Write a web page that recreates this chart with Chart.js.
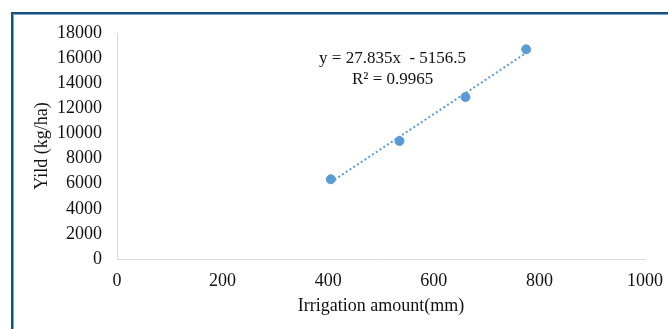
<!DOCTYPE html>
<html>
<head>
<meta charset="utf-8">
<script src="https://cdn.jsdelivr.net/npm/chart.js@4/dist/chart.umd.min.js"></script>
<style>
body { margin: 0; background: #fff; overflow: hidden; }
#wrap { position: relative; width: 668px; height: 329px; }
#frame1 { position: absolute; left: 11px; top: 12px; width: 1000px; height: 1000px;
    border-top: 2px solid #1f4e79; border-left: 2px solid #1f4e79; }
#frame2 { position: absolute; left: 13px; top: 14px; width: 1000px; height: 1000px;
    border-top: 1px solid #6fa8dc; border-left: 1px solid #6fa8dc; }
canvas { position: absolute; left: 0; top: 0; }
</style>
</head>
<body>
<div id="wrap">
    <div id="frame1"></div>
    <div id="frame2"></div>
    <canvas id="scatterChart" width="668" height="329"></canvas>
</div>
<script>
// 灌水量 / 产量
var irrigation = [405, 535, 660, 775];
var yieldKg = [6350, 9400, 12900, 16700];
var xTicks = [0, 200, 400, 600, 800, 1000];
var yTicks = [0, 2000, 4000, 6000, 8000, 10000, 12000, 14000, 16000, 18000];

// trendline from the picture
var slope = 27.835;
var intercept = -5156.5;
var eqText = ['y = 27.835x  - 5156.5', 'R\u00b2 = 0.9965'];

var blue = '#5b9bd5';
var serif = 'Liberation Serif';
var txt = '#111';

var trend = [irrigation[0], irrigation[irrigation.length - 1]].map(function(x) {
    return { x: x, y: slope * x + intercept };
});
var points = irrigation.map(function(x, i) {
    return { x: x, y: yieldKg[i] };
});

// 公式文字
var eqPlugin = {
    id: 'eqLabel',
    afterDatasetsDraw: function(chart) {
        var ctx = chart.ctx;
        var px = chart.scales.x.getPixelForValue(522);
        var py = chart.scales.y.getPixelForValue(16000);
        ctx.save();
        ctx.font = '17px "' + serif + '"';
        ctx.fillStyle = txt;
        ctx.textAlign = 'center';
        ctx.textBaseline = 'middle';
        ctx.fillText(eqText[0], px, py);
        ctx.fillText(eqText[1], px, py + 21);
        ctx.restore();
    }
};

function plain(v) { return String(v); }

var ctx = document.getElementById('scatterChart');
var myChart = new Chart(ctx, {
    type: 'scatter',
    data: {
        datasets: [{
            data: points,
            backgroundColor: blue,
            borderColor: blue,
            pointRadius: 4.5,
            pointHoverRadius: 4.5
        }, {
            type: 'line',
            data: trend,
            borderColor: blue,
            borderWidth: 2,
            borderDash: [2, 2.5],
            pointRadius: 0,
            fill: false
        }]
    },
    options: {
        responsive: false,
        animation: false,
        events: [],
        layout: { padding: { top: 33, right: 23, left: 0, bottom: 0 } },
        plugins: { legend: { display: false }, tooltip: { enabled: false } },
        scales: {
            x: {
                type: 'linear',
                min: 0,
                max: 1000,
                afterBuildTicks: function(axis) {
                    axis.ticks = xTicks.map(function(v) { return { value: v }; });
                },
                afterFit: function(axis) {
                    axis.height = 70;
                    axis.paddingLeft = 0;
                    axis.paddingRight = 0;
                },
                grid: { display: false, drawTicks: false },
                border: { color: '#d9d9d9', width: 1 },
                ticks: { color: txt, padding: 11, maxRotation: 0, callback: plain,
                    font: { family: serif, size: 18 } },
                title: { display: true, text: 'Irrigation amount(mm)', color: txt,
                    font: { family: serif, size: 18 }, padding: { top: 0, bottom: 12 } }
            },
            y: {
                type: 'linear',
                min: 0,
                max: 18000,
                afterBuildTicks: function(axis) {
                    axis.ticks = yTicks.map(function(v) { return { value: v }; });
                },
                afterFit: function(axis) {
                    axis.width = 117;
                    axis.paddingTop = 0;
                    axis.paddingBottom = 0;
                },
                grid: { display: false, drawTicks: false },
                border: { color: '#d9d9d9', width: 1 },
                ticks: { color: txt, padding: 15, callback: plain,
                    font: { family: serif, size: 18 } },
                title: { display: true, text: 'Yild (kg/ha)', color: txt,
                    font: { family: serif, size: 18 }, padding: { top: 31, bottom: 0 } }
            }
        }
    },
    plugins: [eqPlugin]
});
</script>
</body>
</html>
